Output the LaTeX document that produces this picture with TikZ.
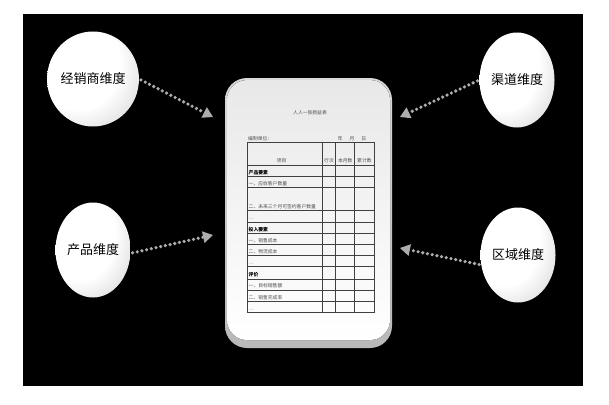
\documentclass[tikz,border=0pt]{standalone}
\usepackage{fontspec}
\newfontfamily\cjk{Noto Sans CJK SC}
\usetikzlibrary{arrows.meta,shapes.geometric}
\pgfdeclareradialshading{dome}{\pgfpoint{-14bp}{12bp}}{color(0bp)=(white); color(24bp)=(white); color(42bp)=(gray!35); color(54bp)=(gray!70); color(70bp)=(gray!70)}
\tikzset{
	dimball/.style={ellipse, minimum width=75pt, minimum height=95pt, inner sep=0pt, shading=dome, font=\cjk\fontsize{13}{15}\selectfont},
	dotarrow/.style={draw=gray!65, line width=3.6pt, line cap=round, dash pattern=on 0pt off 4.8pt, shorten <=2pt, -{Triangle[length=10pt,width=12pt,line width=0pt,fill=gray!65]}},
	tabtext/.style={inner sep=0pt, text=black!70, font=\cjk\fontsize{4.8}{5}\selectfont},
	tabhead/.style={tabtext, text=black, font=\cjk\bfseries\fontsize{4.8}{5}\selectfont},
	tabline/.style={draw=black!75, line width=0.45pt}
}

\begin{document}
\begin{tikzpicture}[x=1pt, y=-1pt]
		%%%%% START %%%%%
		\useasboundingbox (0,0) rectangle (609,404);
		\fill[white] (0,0) rectangle (609,404);
		\fill[black] (23,14) rectangle (583,386);
		
		% report card
		\fill[rounded corners=22pt, top color=gray!30, bottom color=gray!55] (225,78) rectangle (392,348);
		\fill[rounded corners=20pt, top color=gray!18, bottom color=white] (227,80) rectangle (390,340);
		
		\node[tabtext] (title) at (310,113) {人人一张损益表};
		\node[tabtext, anchor=base west] (unit) at (248,140) {编制单位：};
		\node[tabtext, anchor=base] (date) at (352,140) {年\hspace{7pt}月\hspace{7pt}日};
		
		% table grid
		\draw[tabline] (247.3,142.3) rectangle (374,312.7);
		\draw[tabline] (322.3,142.3) -- (322.3,312.7);
		\draw[tabline] (335.7,142.3) -- (335.7,312.7);
		\draw[tabline] (354.7,142.3) -- (354.7,312.7);
		\draw[tabline] (247.3,165.7) -- (374,165.7) (247.3,176.7) -- (374,176.7) (247.3,187.3) -- (374,187.3) (247.3,210.7) -- (374,210.7);
		\draw[tabline] (247.3,222) -- (374,222) (247.3,233.3) -- (374,233.3) (247.3,244.3) -- (374,244.3) (247.3,255.7) -- (374,255.7);
		\draw[tabline] (247.3,266.7) -- (374,266.7) (247.3,279) -- (374,279) (247.3,290) -- (374,290) (247.3,301.3) -- (374,301.3);
		
		\node[tabtext, anchor=base] (hitem) at (281.7,162.5) {项目};
		\node[tabtext, anchor=base] (hno) at (329,162.5) {行次};
		\node[tabtext, anchor=base] (hmonth) at (345.2,162.5) {本月数};
		\node[tabtext, anchor=base] (hsum) at (364.4,162.5) {累计数};
		
		\node[tabhead, anchor=base west] (rowa) at (248.5,174.5) {产品要素};
		\node[tabtext, anchor=base west] (rowb) at (248.5,185.2) {一、应收客户数量};
		\node[tabtext, anchor=base west] (rowc) at (248.5,208.5) {二、未来三个月可签约客户数量};
		\node[tabtext, anchor=base west] (rowd) at (248.5,219.8) {…};
		\node[tabhead, anchor=base west] (rowe) at (248.5,231.2) {投入要素};
		\node[tabtext, anchor=base west] (rowf) at (248.5,242.2) {一、销售成本};
		\node[tabtext, anchor=base west] (rowg) at (248.5,253.5) {二、物流成本};
		\node[tabtext, anchor=base west] (rowh) at (248.5,264.5) {…};
		\node[tabhead, anchor=base west] (rowi) at (248.5,276.8) {评价};
		\node[tabtext, anchor=base west] (rowj) at (248.5,287.8) {一、目标销售额};
		\node[tabtext, anchor=base west] (rowk) at (248.5,299.2) {二、销售完成率};
		\node[tabtext, anchor=base west] (rowl) at (248.5,310.5) {…};
		
		% dimensions
		\node[dimball] (dealer) at (93,79) {经销商维度};
		\node[dimball] (product) at (93,250) {产品维度};
		\node[dimball] (channel) at (517,80) {渠道维度};
		\node[dimball] (region) at (518,255) {区域维度};
		
		\coordinate (tipa) at (213,117);
		\coordinate (tipb) at (213,235);
		\coordinate (tipc) at (400,117);
		\coordinate (tipd) at (400,248);
		
		\draw[dotarrow] (dealer.east) -- (tipa);
		\draw[dotarrow] (product.355) -- (tipb);
		\draw[dotarrow] (channel.west) -- (tipc);
		\draw[dotarrow] (region.195) -- (tipd);
		%%%%% END %%%%%
	\end{tikzpicture}
\end{document}
